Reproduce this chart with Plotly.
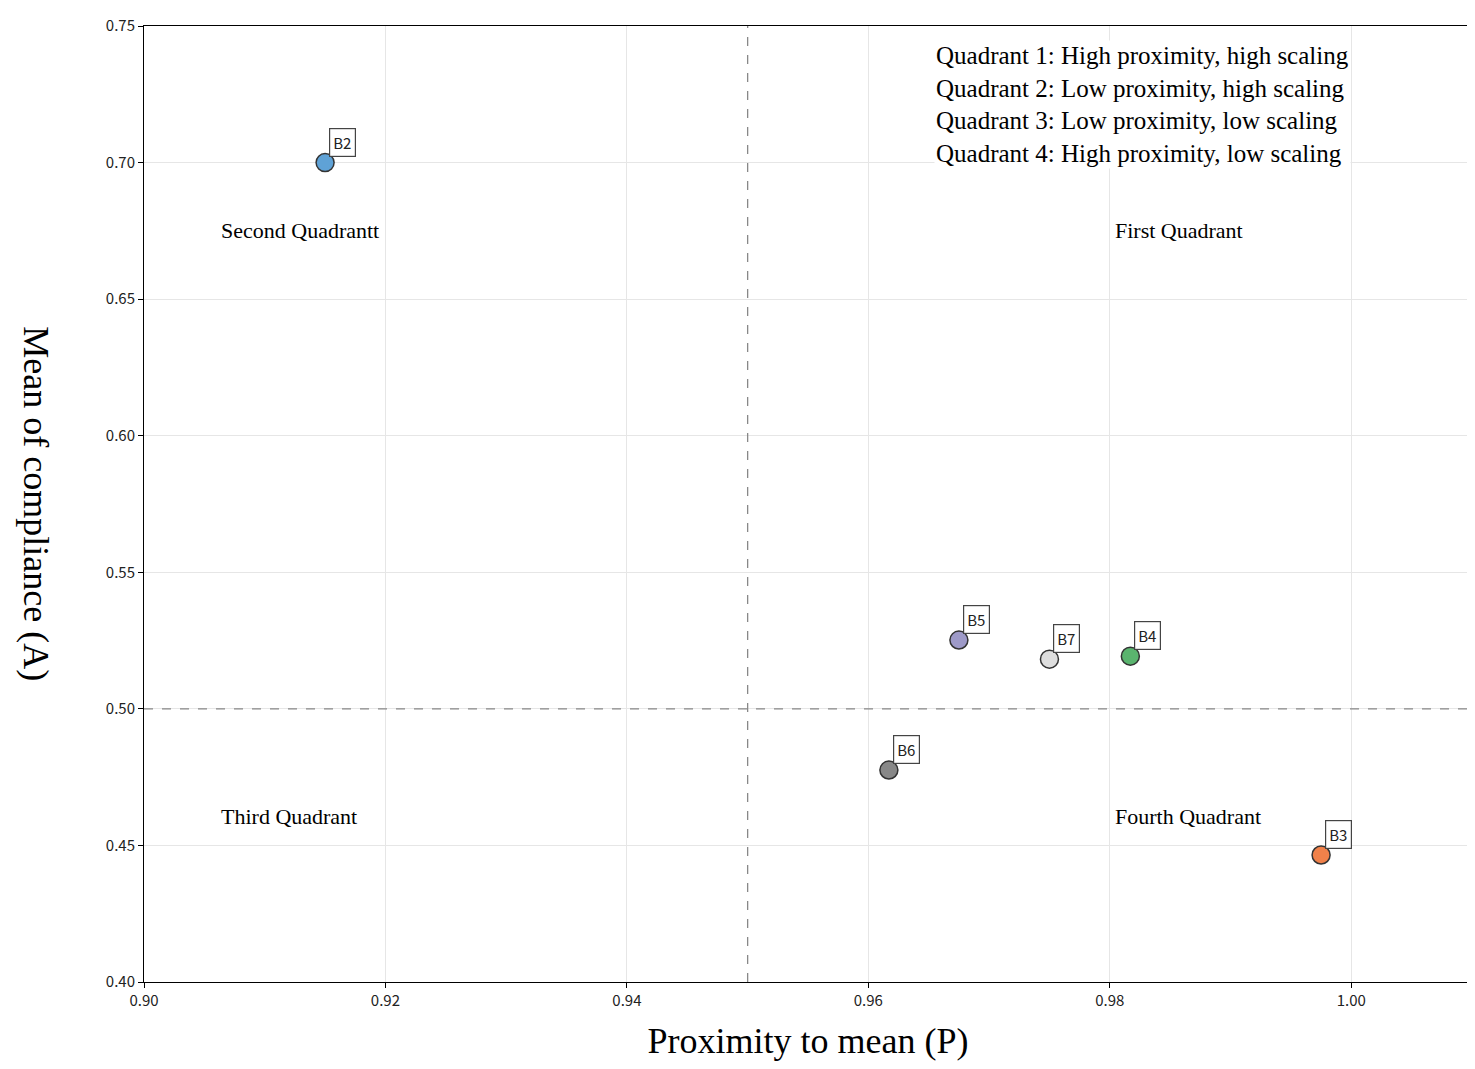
import plotly.graph_objects as go

names = ["B2", "B3", "B4", "B5", "B6", "B7"]
proximity = [0.915, 0.9975, 0.9817, 0.9675, 0.9617, 0.975]
compliance = [0.700, 0.4465, 0.5193, 0.5252, 0.4776, 0.5182]
colors = ["#5fa2d6", "#f0814a", "#5ab46e", "#9e9ac8", "#888888", "#dedede"]

quad_names = ["Second Quadrantt", "First Quadrant", "Third Quadrant", "Fourth Quadrant"]
quad_x = [0.906, 0.980, 0.906, 0.980]
quad_y = [0.675, 0.675, 0.4605, 0.4605]

legend_lines = [
    "Quadrant 1: High proximity, high scaling",
    "Quadrant 2: Low proximity, high scaling",
    "Quadrant 3: Low proximity, low scaling",
    "Quadrant 4: High proximity, low scaling",
]

serif = "Liberation Serif"
sans = "Noto Sans CJK SC"

fig = go.Figure()
fig.add_trace(go.Scatter(
    x=proximity, y=compliance, mode="markers",
    marker=dict(size=18, color=colors, line=dict(color="#333", width=1.5)),
    showlegend=False,
))

# cross lines at the quadrant split
fig.add_vline(x=0.95, line=dict(color="#888", width=1.3, dash="dash"))
fig.add_hline(y=0.50, line=dict(color="#888", width=1.3, dash="dash"))

for n, x, y in zip(names, proximity, compliance):
    fig.add_annotation(x=x, y=y, text=n, showarrow=False, xanchor="left", yanchor="bottom",
                       xshift=4, yshift=6, font=dict(family=sans, size=15, color="#222"),
                       bgcolor="white", bordercolor="#444", borderwidth=1.2, borderpad=3)

for t, x, y in zip(quad_names, quad_x, quad_y):
    fig.add_annotation(x=x, y=y, text=t, showarrow=False, xanchor="left", yanchor="middle",
                       font=dict(family=serif, size=22, color="black"),
                       bgcolor="white", borderpad=4)

fig.add_annotation(xref="paper", yref="paper", x=0.595, y=0.985, text="<br>".join(legend_lines),
                   showarrow=False, xanchor="left", yanchor="top", align="left",
                   font=dict(family=serif, size=25, color="black"), bgcolor="white")

# y title reads top to bottom in the original
fig.add_annotation(xref="paper", yref="paper", x=-0.065, y=0.5, text="Mean of compliance (A)",
                   textangle=90, showarrow=False, xanchor="right", yanchor="middle",
                   font=dict(family=serif, size=36, color="black"))

axis_common = dict(showgrid=True, gridcolor="#e6e6e6", showline=True, linecolor="black",
                   mirror=True, ticks="outside", ticklen=5, tickcolor="black",
                   tickfont=dict(family=sans, size=15, color="#222"), zeroline=False,
                   automargin=False)

fig.update_xaxes(range=[0.90, 1.01], tickvals=[0.90, 0.92, 0.94, 0.96, 0.98, 1.00],
                 tickformat=".2f", title=dict(text="Proximity to mean (P)",
                 font=dict(family=serif, size=36, color="black"), standoff=18), **axis_common)
fig.update_yaxes(range=[0.40, 0.75], dtick=0.05, tickformat=".2f", **axis_common)

fig.update_layout(width=1475, height=1069, plot_bgcolor="white", paper_bgcolor="white",
                  margin=dict(l=136, r=11, t=18, b=95))
fig.write_html("out.html")
